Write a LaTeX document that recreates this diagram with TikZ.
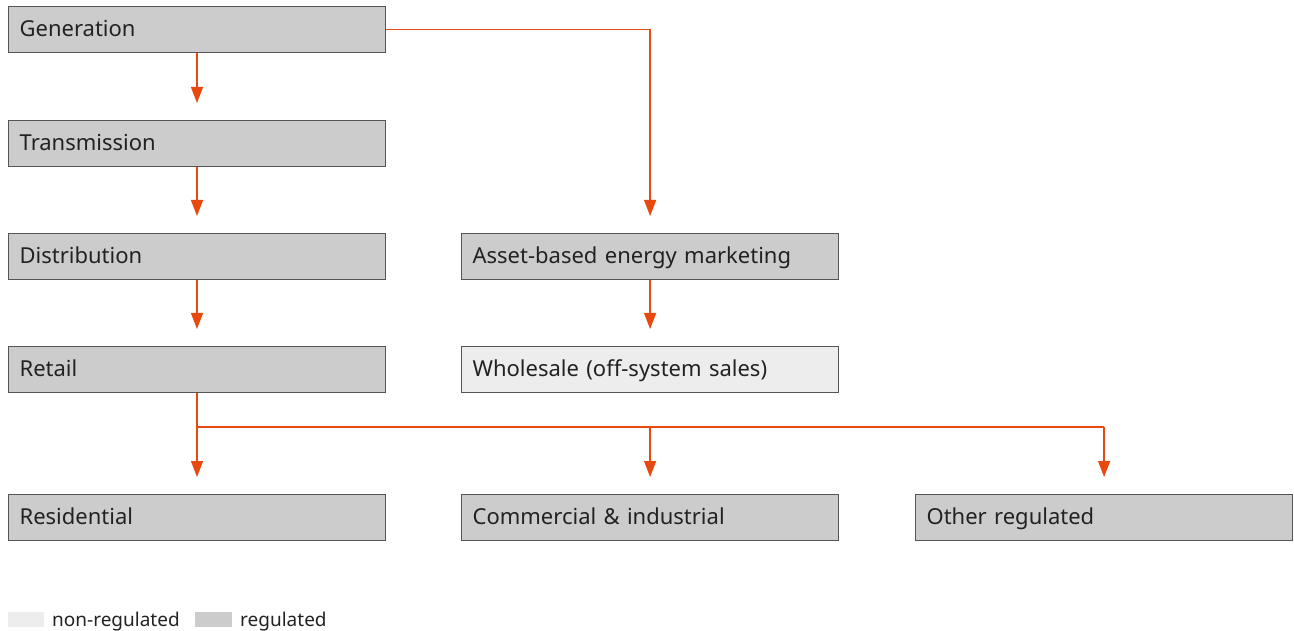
\documentclass[tikz,border=0pt]{standalone}
\usepackage{fontspec}
\setmainfont{Noto Sans}
\usetikzlibrary{arrows.meta,calc}
\definecolor{regfill}{HTML}{CCCCCC}
\definecolor{nonregfill}{HTML}{ECEDEC}
\definecolor{boxline}{HTML}{555555}
\definecolor{flow}{HTML}{E8490F}
\definecolor{txt}{HTML}{222222}
\begin{document}
\begin{tikzpicture}[x=1pt,y=-1pt,
  box/.style={draw=boxline,line width=1.2pt,fill=regfill,minimum width=377pt,minimum height=46pt,anchor=north west,inner sep=0pt,text=txt,font=\fontsize{22pt}{26pt}\selectfont,align=left,text width=355pt,text height=17pt,text depth=3pt},
  nonreg/.style={box,fill=nonregfill},
  flowline/.style={draw=flow,line width=1.3pt},
  flowarrow/.style={flowline,-{Triangle[length=16pt,width=12pt]},shorten >=17pt},
  legtext/.style={anchor=west,inner sep=0pt,text=txt,font=\fontsize{19pt}{22pt}\selectfont,text height=14pt,text depth=2pt}]
\useasboundingbox (0,0) rectangle (1294,631);
\node[box] (gen) at (8,6) {Generation};
\node[box] (trans) at (8,120) {Transmission};
\node[box] (dist) at (8,233) {Distribution};
\node[box] (retail) at (8,346) {Retail};
\node[box] (res) at (8,494) {Residential};
\node[box] (asset) at (461,233) {Asset-based energy marketing};
\node[nonreg] (whole) at (461,346) {Wholesale (off-system sales)};
\node[box] (comm) at (461,494) {Commercial \& industrial};
\node[box] (other) at (915,494) {Other regulated};
% connectors
\draw[flowarrow] (gen.south -| 197,0) -- (trans.north -| 197,0);
\draw[flowarrow] (trans.south -| 197,0) -- (dist.north -| 197,0);
\draw[flowarrow] (dist.south -| 197,0) -- (retail.north -| 197,0);
\draw[flowarrow] (gen.east) -| (asset.north);
\draw[flowarrow] (asset.south) -- (whole.north);
\coordinate (split) at (197,427);
\draw[flowline] (retail.south -| 197,0) -- (split) -- (split -| other.north);
\draw[flowarrow] (split) -- (res.north -| 197,0);
\draw[flowarrow] (split -| comm.north) -- (comm.north);
\draw[flowarrow] (split -| other.north) -- (other.north);
% legend
\node[fill=nonregfill,minimum width=36pt,minimum height=15pt,inner sep=0pt,anchor=north west] (lg1) at (8,612) {};
\node[legtext] (lt1) at (52,620) {non-regulated};
\node[fill=regfill,minimum width=37pt,minimum height=15pt,inner sep=0pt,anchor=north west] (lg2) at (195,612) {};
\node[legtext] (lt2) at (240,620) {regulated};
\end{tikzpicture}
\end{document}
